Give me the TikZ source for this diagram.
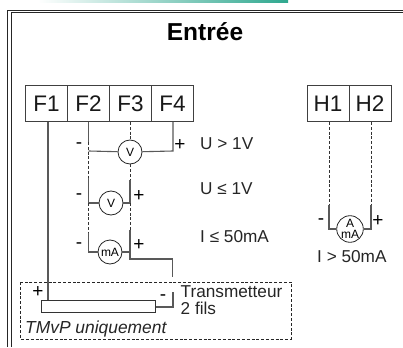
\documentclass[tikz,border=0pt]{standalone}
\usepackage{fontspec}
\setmainfont{Liberation Sans}
\tikzset{
  x=1pt,y=-1pt,
  wire/.style={draw=black!65,line width=1.1pt},
  dash wire/.style={draw=black!80,line width=0.9pt,dash pattern=on 3pt off 1.8pt},
  term/.style={draw=black!75,line width=1pt,minimum width=42pt,minimum height=36pt,inner sep=0pt,font=\fontsize{22.5}{23}\selectfont,text=black!90},
  meter/.style={circle,draw=black!85,fill=white,line width=0.8pt,minimum size=24pt,inner sep=0pt},
  lbl/.style={inner sep=0pt,font=\fontsize{17.2}{18}\selectfont,text=black!85},
  sgn/.style={inner sep=0pt,font=\fontsize{19}{19}\selectfont,text=black}
}
\definecolor{teal}{HTML}{2FA88F}
\begin{document}
\begin{tikzpicture}
\useasboundingbox (0,0) rectangle (403,347);
\fill[white] (0,0) rectangle (403,347);
\fill[left color=white,right color=teal] (38,0) rectangle (288,3);
\draw[black!85,line width=0.9pt] (7.5,347) -- (7.5,10.5) -- (403,10.5);
\draw[black!85,line width=0.9pt] (11,347) -- (11,12.8) -- (403,12.8);
\node[inner sep=0pt,font=\bfseries\fontsize{24.5}{26}\selectfont] (title) at (205,32) {Entrée};
\node[term] (F1) at (46.5,104) {F1};
\node[term] (F2) at (88.5,104) {F2};
\node[term] (F3) at (130.5,104) {F3};
\node[term] (F4) at (172.5,104) {F4};
\node[term] (H1) at (328,104) {H1};
\node[term] (H2) at (370,104) {H2};
\node[meter] (mU) at (130,152) {\fontsize{12}{12}\selectfont V};
\node[meter] (mV) at (111,203) {\fontsize{12}{12}\selectfont V};
\node[meter] (mI) at (110,252) {\fontsize{12}{12}\selectfont mA};
\node[meter] (mH) at (350,229) {\fontsize{12}{11}\selectfont\shortstack[c]{A\\mA}};
\node[draw=black!80,line width=0.8pt,fill=none,minimum width=114pt,minimum height=12pt,inner sep=0pt] (bar) at (98.5,306) {};
\coordinate (f1b) at (48,300);
\coordinate (f2t) at (88.5,122);
\coordinate (f2a) at (88.5,142);
\coordinate (f2b) at (88.5,178);
\coordinate (f2c) at (88.5,203);
\coordinate (f2d) at (88.5,233);
\coordinate (f2e) at (88.5,252);
\coordinate (f3t) at (130,122);
\coordinate (f3a) at (130,180);
\coordinate (f3b) at (130,203);
\coordinate (f3c) at (130,230);
\coordinate (f3d) at (130,259);
\coordinate (t1) at (172.5,259);
\coordinate (t2) at (172.5,277);
\coordinate (t3) at (173,292);
\coordinate (t4) at (173,307);
\coordinate (f4m) at (173,151);
\draw[wire] (48,122) -- (f1b);
\draw[wire] (f2t) -- (f2a);
\draw[dash wire] (f2a) -- (f2b);
\draw[wire] (f2b) -- (f2c) -- (mV);
\draw[dash wire] (f2c) -- (f2d);
\draw[wire] (f2d) -- (f2e) -- (mI);
\draw[wire] (88.5,151) -- (mU);
\draw[wire] (mU) -- (f4m) -- (173,122);
\draw[dash wire] (f3t) -- (mU);
\draw[dash wire] (mU) -- (f3a);
\draw[wire] (f3a) -- (f3b) -- (mV);
\draw[dash wire] (f3b) -- (f3c);
\draw[wire] (f3c) -- (f3d) -- (t1) -- (t2);
\draw[wire] (mI) -- (130,252);
\draw[wire] (t3) -- (t4) -- (155.5,307);
\draw[dash wire] (329,122) coordinate (h1t) -- (329,205) coordinate (h1b);
\draw[dash wire] (371,122) coordinate (h2t) -- (371,205) coordinate (h2b);
\draw[wire] (h1b) -- (329,229) -- (mH);
\draw[wire] (h2b) -- (371,229) -- (mH);
\draw[dash wire,black!85] (20.5,282) rectangle (291,339);
\node[sgn] at (79,146) {-};
\node[sgn] at (180,145) {+};
\node[sgn] at (79,197) {-};
\node[sgn] at (139,196) {+};
\node[sgn] at (79,246) {-};
\node[sgn] at (139,245) {+};
\node[sgn] at (38,292) {+};
\node[sgn] at (163,298) {-};
\node[sgn] at (321,222) {-};
\node[sgn] at (378,221) {+};
\node[lbl,anchor=west] at (200,143.5) {U > 1V};
\node[lbl,anchor=west] at (200,189) {U ≤ 1V};
\node[lbl,anchor=west] at (200,236.5) {I ≤ 50mA};
\node[lbl,anchor=west] at (317,257) {I > 50mA};
\node[lbl,anchor=west] at (180.5,292) {Transmetteur};
\node[lbl,anchor=west] at (180.5,308) {2 fils};
\node[lbl,anchor=west,font=\itshape\fontsize{17.4}{18}\selectfont] at (25,329) {TMvP uniquement};
\end{tikzpicture}
\end{document}
